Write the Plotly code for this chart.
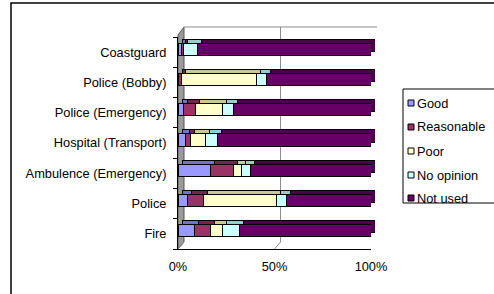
import plotly.graph_objects as go

# ---- data ----
categories = ["Fire", "Police", "Ambulence (Emergency)", "Hospital (Transport)",
              "Police (Emergency)", "Police (Bobby)", "Coastguard"]
series_names = ["Good", "Reasonable", "Poor", "No opinion", "Not used"]
good = [8.5, 4.8, 16.9, 3.8, 2.8, 0.0, 2.0]
reasonable = [8.5, 8.5, 11.7, 2.8, 6.4, 2.0, 1.0]
poor = [6.2, 37.5, 4.1, 7.8, 13.8, 38.5, 0.0]
no_opinion = [8.6, 5.2, 4.8, 6.2, 6.0, 5.2, 7.0]
not_used = [68.2, 44.0, 62.5, 79.4, 71.0, 54.3, 90.0]
x_ticks = [0, 50, 100]
x_ticklabels = ["0%", "50%", "100%"]

series_values = [good, reasonable, poor, no_opinion, not_used]
front_colors = ["#9999FF", "#993366", "#FFFFCC", "#CCFFFF", "#660066"]
top_colors = ["#7373C0", "#73264D", "#C8C899", "#99CCCC", "#4A004A"]

W, H = 494, 294
FONT = "Liberation Sans, Arial, sans-serif"


def px(x):
    return x / W


def py(y):
    return 1 - y / H


fig = go.Figure()

# back (depth) faces - drawn first, shifted axis
for name, vals, col in zip(series_names, series_values, top_colors):
    fig.add_trace(go.Bar(
        y=categories, x=vals, name=name, orientation="h",
        xaxis="x", yaxis="y", width=0.4, offset=0.03,
        marker=dict(color=col, line=dict(color="#000000", width=1)),
        showlegend=False, hoverinfo="skip"))

# front faces
for name, vals, col in zip(series_names, series_values, front_colors):
    fig.add_trace(go.Bar(
        y=categories, x=vals, name=name, orientation="h",
        xaxis="x2", yaxis="y", width=0.4, offset=-0.10,
        marker=dict(color=col, line=dict(color="#000000", width=1)),
        showlegend=False))

shapes = []
# chart area border
shapes.append(dict(type="rect", xref="paper", yref="paper",
                   x0=px(11), x1=px(520), y0=py(3), y1=py(320),
                   line=dict(color="#000000", width=1.5), fillcolor="rgba(0,0,0,0)",
                   layer="below"))
# left wall (grey)
shapes.append(dict(type="path", xref="paper", yref="paper",
                   path=f"M{px(178)},{py(249)} L{px(178)},{py(35)} L{px(184)},{py(27)} L{px(184)},{py(242)} Z",
                   fillcolor="#9A9A9A", line=dict(color="#555555", width=1), layer="below"))
# back wall top edge
shapes.append(dict(type="line", xref="paper", yref="paper",
                   x0=px(184), x1=px(377), y0=py(27), y1=py(27),
                   line=dict(color="#8C8C8C", width=1), layer="below"))
# back-wall gridlines and floor diagonals, anchored to the tick values
for v in x_ticks[1:]:
    shapes.append(dict(type="line", xref="x2", xsizemode="pixel", xanchor=v,
                       x0=6, x1=6, yref="paper", y0=py(242), y1=py(27),
                       line=dict(color="#8C8C8C", width=1), layer="below"))
for v in x_ticks:
    shapes.append(dict(type="line", xref="x2", xsizemode="pixel", xanchor=v,
                       x0=0, x1=6, yref="paper", y0=py(249), y1=py(242),
                       line=dict(color="#8C8C8C", width=1), layer="below"))

# legend box (manual)
shapes.append(dict(type="rect", xref="paper", yref="paper",
                   x0=px(403), x1=px(520), y0=py(203), y1=py(89),
                   line=dict(color="#000000", width=1), fillcolor="#FFFFFF",
                   layer="below"))
annotations = []
leg_y = [103, 127, 151, 175, 198]
for name, col, yy in zip(series_names, front_colors, leg_y):
    shapes.append(dict(type="rect", xref="paper", yref="paper",
                       x0=px(408), x1=px(414), y0=py(yy + 3), y1=py(yy - 3),
                       line=dict(color="#000000", width=1), fillcolor=col))
    annotations.append(dict(text=name, xref="paper", yref="paper",
                            x=px(415), y=py(yy), xanchor="left", yanchor="middle",
                            showarrow=False, font=dict(size=12.8, color="#000000", family=FONT)))

fig.update_layout(
    width=W, height=H,
    margin=dict(l=0, r=0, t=0, b=0),
    paper_bgcolor="#FFFFFF",
    plot_bgcolor="rgba(0,0,0,0)",
    barmode="stack", barnorm="percent",
    font=dict(family=FONT, size=12.8, color="#000000"),
    showlegend=False,
    xaxis=dict(domain=[px(182), px(375)], range=[0, 100], anchor="y",
               showticklabels=False, showgrid=False, zeroline=False, showline=False,
               ticks=""),
    xaxis2=dict(domain=[px(178), px(371)], range=[0, 100], anchor="y",
                tickvals=x_ticks, ticktext=x_ticklabels, ticks="", showgrid=False,
                zeroline=False, showline=True, linecolor="#000000", linewidth=1,
                ticklabelstandoff=6, automargin=False),
    yaxis=dict(domain=[py(249), py(37)], anchor="x2", type="category",
               categoryorder="array", categoryarray=categories,
               range=[-0.5, len(categories) - 0.5],
               showgrid=False, zeroline=False, showline=True, linecolor="#000000",
               linewidth=1, ticks="outside", tickson="boundaries", ticklen=4,
               tickcolor="#000000", ticklabelstandoff=8, automargin=False),
    shapes=shapes, annotations=annotations,
)

fig.write_html("out.html", config={"displayModeBar": False},
               post_script="document.body.style.margin='0';document.body.style.overflow='hidden';")
